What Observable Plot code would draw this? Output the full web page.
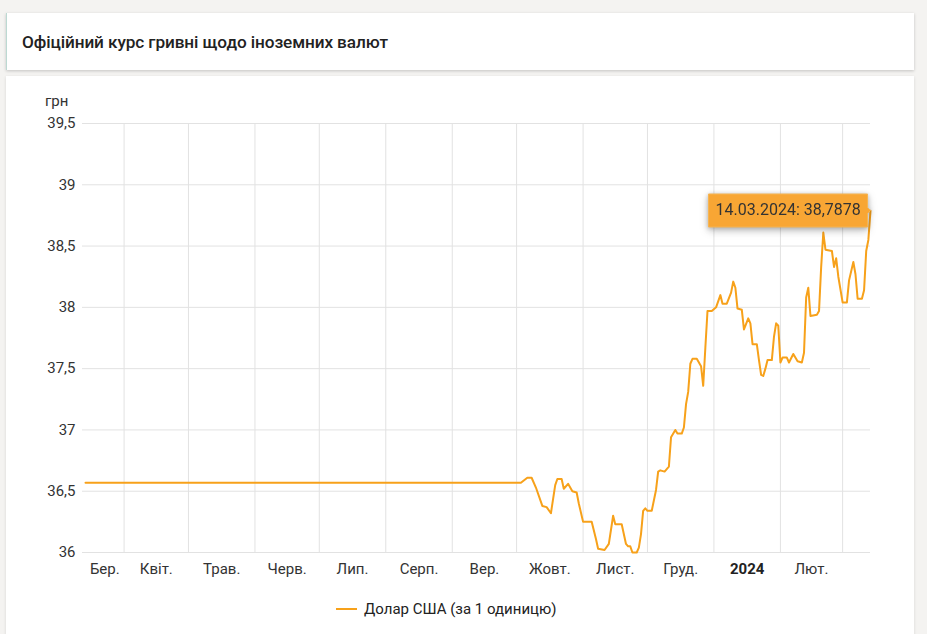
<!DOCTYPE html>
<html><head><meta charset="utf-8">
<script src="https://cdn.jsdelivr.net/npm/d3@7"></script>
<script src="https://cdn.jsdelivr.net/npm/@observablehq/plot@0.6"></script>
<style>
body{margin:0;background:#f4f3f1;font-family:Roboto,sans-serif;width:927px;height:634px;overflow:hidden;position:relative}
#titlecard{position:absolute;left:6px;top:13px;width:908px;height:57px;background:#fff;box-shadow:0 1px 3px rgba(0,0,0,.2);border-left:1px solid #bcd9d2;box-sizing:border-box}
#titlecard h1{margin:0;position:absolute;left:15px;top:19px;font-size:17.2px;font-weight:500;color:#222;letter-spacing:-0.1px}
#chartcard{position:absolute;left:6px;top:76px;width:908px;height:580px;background:#fff;box-shadow:0 1px 3px rgba(0,0,0,.12)}
#unit{position:absolute;left:39px;top:16px;font-size:15px;color:#333}
#chart{position:absolute;left:0;top:0}
#legend{position:absolute;left:330px;top:523px;height:20px;display:flex;align-items:center;font-size:15px;color:#222}
#legend .sw{width:21px;height:2px;background:#f7a11a;margin-right:7px}
#chart svg [aria-label=tip]{filter:drop-shadow(0 1px 2px rgba(0,0,0,.22))}
</style></head>
<body>
<div id="titlecard"><h1>Офіційний курс гривні щодо іноземних валют</h1></div>
<div id="chartcard">
  <div id="chart"></div>
  <div id="unit">грн</div>
  <div id="legend"><span class="sw"></span><span>Долар США (за 1 одиницю)</span></div>
</div>
<script>
const seriesName = "Долар США (за 1 одиницю)";
const dates = ["2023-03-14","2023-10-03","2023-10-06","2023-10-08","2023-10-10","2023-10-13","2023-10-15","2023-10-17","2023-10-19","2023-10-20","2023-10-22","2023-10-23","2023-10-25","2023-10-27","2023-10-29","2023-10-30",
"2023-11-01","2023-11-05","2023-11-07","2023-11-08","2023-11-11","2023-11-13","2023-11-15","2023-11-16","2023-11-19","2023-11-21","2023-11-22","2023-11-23","2023-11-24","2023-11-26","2023-11-27","2023-11-28","2023-11-29","2023-11-30",
"2023-12-01","2023-12-03","2023-12-05","2023-12-06","2023-12-07","2023-12-09","2023-12-11","2023-12-12","2023-12-14","2023-12-15","2023-12-17","2023-12-18","2023-12-19","2023-12-20","2023-12-21","2023-12-22","2023-12-24","2023-12-26","2023-12-27","2023-12-28","2023-12-29","2023-12-31",
"2024-01-02","2024-01-04","2024-01-05","2024-01-07","2024-01-09","2024-01-10","2024-01-11","2024-01-12","2024-01-14","2024-01-15","2024-01-17","2024-01-18","2024-01-19","2024-01-21","2024-01-22","2024-01-23","2024-01-24","2024-01-25","2024-01-26","2024-01-28","2024-01-29","2024-01-30","2024-01-31",
"2024-02-01","2024-02-02","2024-02-04","2024-02-05","2024-02-07","2024-02-09","2024-02-11","2024-02-12","2024-02-13","2024-02-14","2024-02-15","2024-02-18","2024-02-19","2024-02-20","2024-02-21","2024-02-22","2024-02-25","2024-02-26","2024-02-27","2024-02-28",
"2024-03-01","2024-03-03","2024-03-04","2024-03-06","2024-03-07","2024-03-08","2024-03-10","2024-03-11","2024-03-12","2024-03-13","2024-03-14"];
const usdRate = [36.5686,36.5686,36.61,36.61,36.53,36.38,36.37,36.32,36.55,36.60,36.60,36.52,36.56,36.50,36.49,36.40,
36.25,36.25,36.11,36.03,36.02,36.07,36.30,36.23,36.23,36.07,36.05,36.05,36.00,36.00,36.04,36.15,36.34,36.36,
36.34,36.34,36.51,36.66,36.67,36.66,36.70,36.94,37.00,36.97,36.97,37.02,37.21,37.31,37.54,37.58,37.58,37.52,37.36,37.67,37.97,37.97,
38.00,38.10,38.03,38.03,38.12,38.21,38.16,37.99,37.98,37.82,37.91,37.87,37.70,37.70,37.57,37.45,37.44,37.50,37.57,37.57,37.76,37.87,37.85,
37.55,37.59,37.59,37.55,37.62,37.56,37.55,37.63,38.08,38.16,37.93,37.94,37.97,38.33,38.61,38.47,38.46,38.33,38.40,38.25,
38.04,38.04,38.22,38.37,38.27,38.07,38.07,38.14,38.46,38.55,38.7878];
const yTicks = [36, 36.5, 37, 37.5, 38, 38.5, 39, 39.5];
const monthStarts = ["2023-03-01","2023-04-01","2023-05-01","2023-06-01","2023-07-01","2023-08-01","2023-09-01","2023-10-01","2023-11-01","2023-12-01","2024-01-01","2024-02-01","2024-03-01"];
const monthLabels = ["Бер.","Квіт.","Трав.","Черв.","Лип.","Серп.","Вер.","Жовт.","Лист.","Груд.","2024","Лют.",""];
const xDomain = ["2023-03-14","2024-03-14"];

const data = dates.map((d, i) => ({date: new Date(d), value: usdRate[i]}));
const d0 = new Date(xDomain[0]), d1 = new Date(xDomain[1]);
const ms = monthStarts.map(d => new Date(d));
const gridDates = ms.filter(d => d > d0 && d < d1);
const labels = [];
ms.forEach((m, i) => {
  if (!monthLabels[i]) return;
  const a = Math.max(+m, +d0), b = Math.min(+(ms[i+1] || d1), +d1);
  if (b <= a) return;
  labels.push({date: new Date((a + b) / 2), label: monthLabels[i], bold: /^\d{4}$/.test(monthLabels[i])});
});
const fmtDate = d3.utcFormat("%d.%m.%Y");
const fmtNum = v => v.toFixed(4).replace(".", ",");
const last = data[data.length - 1];
const orange = "#f7a11a";

const chart = Plot.plot({
  width: 908, height: 510,
  marginLeft: 79, marginRight: 44, marginTop: 47, marginBottom: 34,
  style: {fontFamily: "Roboto, sans-serif", fontSize: "15px", color: "#333", background: "transparent"},
  x: {type: "utc", domain: [d0, d1], axis: null},
  y: {domain: [36, 39.5], axis: null},
  marks: [
    Plot.ruleY(yTicks, {stroke: "#e2e2e2", strokeWidth: 1, insetLeft: -3}),
    Plot.ruleX(gridDates, {stroke: "#e2e2e2", strokeWidth: 1}),
    Plot.axisY({ticks: yTicks, tickSize: 0, tickPadding: 10, tickFormat: d => String(d).replace(".", ","), fontSize: 15, label: null}),
    Plot.text(labels.filter(d => !d.bold), {x: "date", text: "label", frameAnchor: "bottom", dy: 21, fontSize: 15, fill: "#333"}),
    Plot.text(labels.filter(d => d.bold), {x: "date", text: "label", frameAnchor: "bottom", dy: 21, fontSize: 15, fontWeight: "bold", fill: "#222"}),
    Plot.line(data, {x: "date", y: "value", stroke: orange, strokeWidth: 2, strokeLinejoin: "round", curve: "linear"}),
    Plot.tip([last], {x: "date", y: "value", title: d => `${fmtDate(d.date)}: ${fmtNum(d.value)}`, anchor: "right", fill: "#f8a634", stroke: "#f5b554", pointerSize: 6, textPadding: 7, fontSize: 16})
  ]
});
document.getElementById("chart").appendChild(chart);
</script>
</body></html>
